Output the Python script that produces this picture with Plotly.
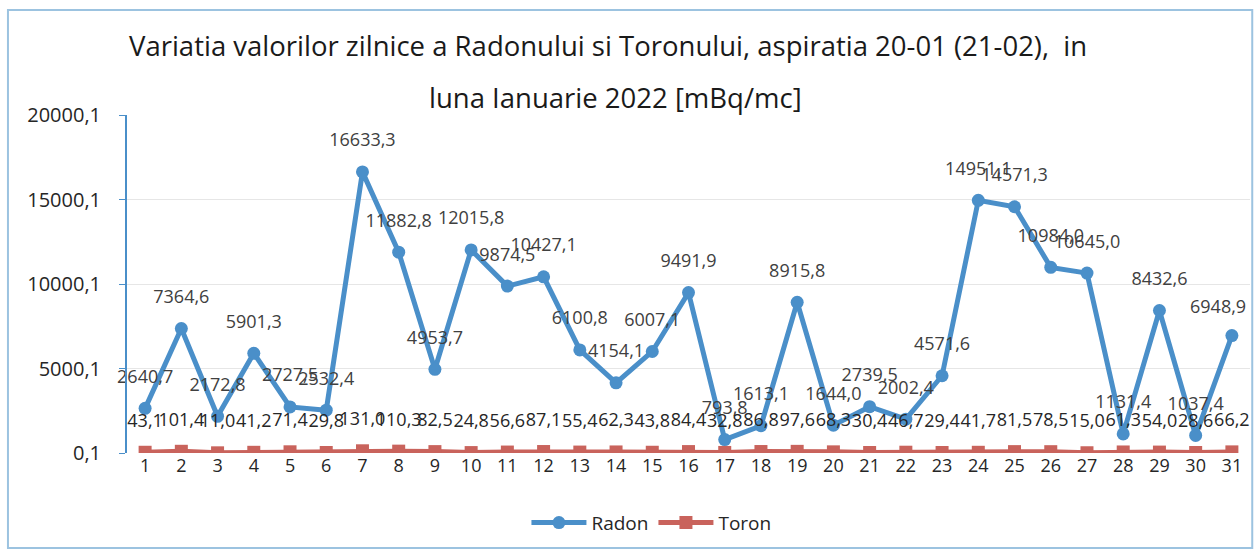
import plotly.graph_objects as go

days = list(range(1, 32))
radon = [2640.7, 7364.6, 2172.8, 5901.3, 2727.5, 2532.4, 16633.3, 11882.8, 4953.7, 12015.8,
         9874.5, 10427.1, 6100.8, 4154.1, 6007.1, 9491.9, 793.8, 1613.1, 8915.8, 1644.0,
         2739.5, 2002.4, 4571.6, 14951.1, 14571.3, 10984.0, 10645.0, 1131.4, 8432.6, 1037.4,
         6948.9]
toron = [43.1, 101.4, 11.0, 41.2, 71.4, 29.8, 131.0, 110.3, 82.5, 24.8,
         56.6, 87.1, 55.4, 62.3, 43.8, 84.4, 32.8, 86.8, 97.6, 68.3,
         30.4, 46.7, 29.4, 41.7, 81.5, 78.5, 15.0, 61.3, 54.0, 28.6,
         66.2]
ytick_vals = [0.1, 5000.1, 10000.1, 15000.1, 20000.1]
ytick_text = ["0,1", "5000,1", "10000,1", "15000,1", "20000,1"]
title_line1 = "Variatia valorilor zilnice a Radonului si Toronului, aspiratia 20-01 (21-02),  in"
title_line2 = "luna Ianuarie 2022 [mBq/mc]"

def fmt(v):
    return f"{v:.1f}".replace(".", ",")

FONT = "Open Sans"
RADON_C = "#4a8fc9"
TORON_C = "#c9635c"

fig = go.Figure()
fig.add_trace(go.Scatter(
    x=days, y=radon, name="Radon", mode="lines+markers",
    line=dict(color=RADON_C, width=5),
    marker=dict(symbol="circle", size=13, color=RADON_C),
))
fig.add_trace(go.Scatter(
    x=days, y=toron, name="Toron", mode="lines+markers",
    line=dict(color=TORON_C, width=5),
    marker=dict(symbol="square", size=13, color=TORON_C),
))
# data labels (invisible large markers give the label offset)
radon_text = [fmt(v) for v in radon[:-1]] + [""]
fig.add_trace(go.Scatter(
    x=days, y=radon, mode="markers+text", showlegend=False, hoverinfo="skip",
    marker=dict(size=32, color="rgba(0,0,0,0)"),
    text=radon_text, textposition="top center",
    textfont=dict(family=FONT, size=18, color="#404040"), cliponaxis=False,
))
fig.add_trace(go.Scatter(
    x=days, y=toron, mode="markers+text", showlegend=False, hoverinfo="skip",
    marker=dict(size=32, color="rgba(0,0,0,0)"),
    text=[fmt(v) for v in toron], textposition="top center",
    textfont=dict(family=FONT, size=18, color="#262626"), cliponaxis=False,
))
# last Radon label, nudged left to stay inside the chart
fig.add_annotation(x=days[-1], y=radon[-1], text=fmt(radon[-1]), showarrow=False,
                   xanchor="center", yanchor="bottom", xshift=-14, yshift=16,
                   font=dict(family=FONT, size=18, color="#404040"))

fig.update_layout(
    width=1254, height=555,
    margin=dict(l=127, r=4, t=115, b=102, autoexpand=False),
    paper_bgcolor="white", plot_bgcolor="white",
    font=dict(family=FONT, size=16, color="#262626"),
    showlegend=True,
    legend=dict(orientation="h", x=0.467, xanchor="center", y=-0.15, yanchor="top",
                itemwidth=55,
                font=dict(family=FONT, size=19, color="#262626")),
    xaxis=dict(range=[0.5, 31.5], tickmode="array", tickvals=days,
               ticktext=[str(d) for d in days], showgrid=False, zeroline=False,
               showline=False, ticks="", automargin=False,
               tickfont=dict(family=FONT, size=18, color="#262626")),
    yaxis=dict(range=[0.1, 20000.1], tickmode="array", tickvals=ytick_vals,
               ticktext=ytick_text, showgrid=True, gridcolor="#e6e6e6", gridwidth=1,
               zeroline=False, showline=True, linecolor=RADON_C, linewidth=2,
               ticks="outside", ticklen=6, tickcolor=RADON_C, automargin=False,
               ticklabelstandoff=14,
               tickfont=dict(family=FONT, size=20, color="#262626")),
)
fig.add_annotation(text=title_line1, xref="paper", yref="paper", x=0.428, y=1.207,
                   xanchor="center", yanchor="middle", showarrow=False,
                   font=dict(family=FONT, size=27.5, color="#1a1a1a"))
fig.add_annotation(text=title_line2, xref="paper", yref="paper", x=0.435, y=1.053,
                   xanchor="center", yanchor="middle", showarrow=False,
                   font=dict(family=FONT, size=27.5, color="#1a1a1a"))
fig.add_shape(type="rect", xref="paper", yref="paper",
              x0=-0.106, x1=1.002, y0=-0.281, y1=1.311,
              line=dict(color="#9cc3e0", width=2), fillcolor="rgba(0,0,0,0)")

fig.write_html("out.html", config={"displayModeBar": False},
               post_script="document.body.style.margin='0';document.body.style.padding='0';")
